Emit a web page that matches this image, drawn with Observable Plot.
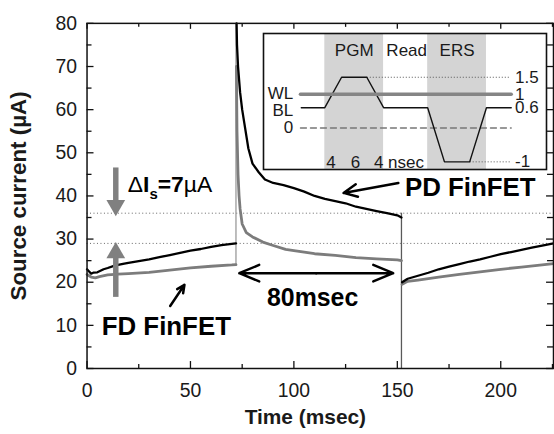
<!DOCTYPE html>
<html><head><meta charset="utf-8">
<script src="https://cdn.jsdelivr.net/npm/d3@7"></script>
<script src="https://cdn.jsdelivr.net/npm/@observablehq/plot@0.6"></script>
<style>
html,body{margin:0;padding:0;background:#fff;overflow:hidden}
#wrap{position:relative;width:554px;height:434px;overflow:hidden;background:#fff}
#wrap svg{position:absolute;left:0;top:0}
</style></head><body><div id="wrap"></div>
<script>
// ---------- main chart data ----------
// PD FinFET (black trace); null = gap in the trace
const pdTime = [0,1,2,3,5,8,10,13,15,18,20,25,30,35,40,45,50,55,60,65,70,72,
  72.1,
  72.3,72.5,73,74,75,76,78,80,83,86,90,95,100,105,110,115,120,125,130,135,140,145,150,152,
  152.1,
  152.3,155,160,165,170,175,180,185,190,195,200,205,210,215,220,225.5];
const pdCurrent = [23,22.5,22,22.2,22.3,23,23.3,23.8,24,24.3,24.5,24.9,25.3,25.8,26.3,26.8,27.3,27.7,28.2,28.6,28.9,29,
  null,
  80,75,70,64,60,57,51,47.5,45.5,43.8,43,42.5,41.8,41,40,39.3,38.8,38.3,37.5,37,36.5,36,35.5,35,
  null,
  20,20.8,21.5,22.2,23,23.6,24.2,24.8,25.3,25.9,26.5,27,27.5,28,28.5,29];
// FD FinFET (gray trace)
const fdTime = [0,2,4,6,10,15,20,30,40,50,60,70,72,
  72.1,
  72.2,72.5,73,73.5,74,75,77,80,85,90,96,100,110,120,130,140,150,152,
  152.1,
  152.3,155,160,170,180,190,200,210,220,225.5];
const fdCurrent = [21.8,21.2,21,21.3,21.7,21.9,22,22.3,22.8,23.3,23.7,24,24.1,
  null,
  70,55,45,40,37,33.5,31.5,30.5,29.3,28.5,27.6,27.3,26.6,26.2,25.7,25.4,25.2,25,
  null,
  19.5,20.2,20.5,21.2,21.8,22.4,23,23.5,24,24.3];
// switching transients (vertical jumps of the traces)
const jumps = [
  {t: 72, from: 24, to: 80, color: "#9a9a9a"},
  {t: 152, from: 0, to: 36, color: "#5a5a5a"}
];

const refLevels = [29, 36];                 // dotted ΔIs reference levels
const xMajor = [0, 50, 100, 150, 200];
const xMinor = [25, 75, 125, 175, 225];
const yMajor = [0, 10, 20, 30, 40, 50, 60, 70, 80];
const yMinor = [5, 15, 25, 35, 45, 55, 65, 75];

// annotations (data coordinates)
const bigLabels = [
  {label: "PD FinFET", t: 153.7, v: 41.8},
  {label: "FD FinFET", t: 7.1, v: 9.6}
];
const spanLabel = [{label: "80msec", t: 87, v: 16.4}];
const deltaLabel = [{label: "ΔIs=7µA", t: 19.7, v: 42.5}];
const blackArrows = [
  {x1: 150.5, y1: 43.0, x2: 124.0, y2: 40.7},
  {x1: 40.2, y1: 14.5, x2: 47.1, y2: 19.4}
];
const spanArrows = [
  {x1: 110.8, y1: 22.1, x2: 73.6, y2: 22.1},
  {x1: 110.8, y1: 22.1, x2: 148.0, y2: 22.1}
];
const grayShafts = [
  {x: 13.9, y1: 46.6, y2: 37.8},
  {x: 13.9, y1: 16.6, y2: 26.8}
];
const grayHeads = [
  {x: 13.9, y: 37.8, rot: 180},
  {x: 13.9, y: 26.8, rot: 0}
];

// ---------- inset (pulse schematic) data ----------
const blTime = [-5.6, 0, 4, 10, 14, 24.5, 28.5, 34.5, 38.5, 44.4];
const blVolt = [0.6, 0.6, 1.5, 1.5, 0.6, 0.6, -1, -1, 0.6, 0.6];
const wlTime = [-5.8, 44.4];
const wlVolt = [1, 1];
const zeroTime = [-5.8, 44.4];
const bands = [{x1: 0, x2: 14}, {x1: 24.5, x2: 38.5}];
const phaseLabels = [{label: "PGM", t: 7, v: 2.29}, {label: "Read", t: 19.5, v: 2.29}, {label: "ERS", t: 31.5, v: 2.29}];
const levelLabels = [{label: "1.5", v: 1.5}, {label: "1", v: 1}, {label: "0.6", v: 0.6}, {label: "-1", v: -1}];
const lineLabels = [{label: "WL", v: 1.02}, {label: "BL", v: 0.53}, {label: "0", v: 0}];
const durCenter = [{label: "4", t: 1.5}, {label: "6", t: 7.3}];
const durStart = [{label: "4 nsec", t: 11.7}];
const dotLevels = [{v: 1.5, t1: 10, t2: 44.2}, {v: -1, t1: 34.5, t2: 44.2}];

const FONT = "'Liberation Sans', Arial, Helvetica, sans-serif";
const pd = pdTime.map((t, i) => ({t, v: pdCurrent[i]}));
const fd = fdTime.map((t, i) => ({t, v: fdCurrent[i]}));

const main = Plot.plot({
  width: 557, height: 434,
  marginLeft: 87, marginRight: 1, marginTop: 23, marginBottom: 64,
  x: {domain: [0, 225.5]},
  y: {domain: [0, 80]},
  style: {fontFamily: FONT, fontSize: "19.5px", color: "#1a1a1a", background: "transparent"},
  marks: [
    Plot.ruleY(refLevels, {y: d => d, stroke: "#666", strokeDasharray: "1,2.5", strokeWidth: 1}),
    Plot.ruleX(jumps, {x: "t", y1: "from", y2: "to", stroke: "color", strokeWidth: 1.3}),
    Plot.line(fd, {x: "t", y: "v", stroke: "#7c7c7c", strokeWidth: 2.8}),
    Plot.line(pd, {x: "t", y: "v", stroke: "#000", strokeWidth: 2.3}),
    Plot.frame({stroke: "#111", strokeWidth: 1.5}),
    Plot.tickX(xMajor, {x: d => d, insetTop: 340, stroke: "#111", strokeWidth: 1.3}),
    Plot.tickX(xMinor, {x: d => d, insetTop: 343, stroke: "#111", strokeWidth: 1.3}),
    Plot.tickX(xMajor, {x: d => d, insetBottom: 341, stroke: "#111", strokeWidth: 1.3}),
    Plot.tickX(xMinor, {x: d => d, insetBottom: 343, stroke: "#111", strokeWidth: 1.3}),
    Plot.tickY(yMajor, {y: d => d, insetRight: 462, stroke: "#111", strokeWidth: 1.3}),
    Plot.tickY(yMinor, {y: d => d, insetRight: 464, stroke: "#111", strokeWidth: 1.3}),
    Plot.tickY(yMajor, {y: d => d, insetLeft: 462, stroke: "#111", strokeWidth: 1.3}),
    Plot.tickY(yMinor, {y: d => d, insetLeft: 463, stroke: "#111", strokeWidth: 1.3}),
    Plot.axisX({ticks: xMajor, tickSize: 0, tickPadding: 15, label: null}),
    Plot.axisY({ticks: yMajor, tickSize: 0, tickPadding: 10, label: null}),
    Plot.text(["Time (msec)"], {frameAnchor: "bottom", lineAnchor: "middle", textAnchor: "middle", dx: -15, dy: 49, fontWeight: "bold", fontSize: 21}),
    Plot.text(["Source current (µA)"], {frameAnchor: "left", lineAnchor: "middle", textAnchor: "middle", rotate: -90, dx: -69, fontWeight: "bold", fontSize: 22.5}),
    // gray ΔIs arrows
    Plot.link(grayShafts, {x1: "x", x2: "x", y1: "y1", y2: "y2", stroke: "#808080", strokeWidth: 5.5}),
    Plot.dot(grayHeads, {x: "x", y: "y", symbol: "triangle", r: 7, rotate: "rot", fill: "#808080", stroke: "none"}),
    // black pointer arrows
    Plot.arrow(blackArrows, {x1: "x1", y1: "y1", x2: "x2", y2: "y2", stroke: "#000", strokeWidth: 2.5, headLength: 9, headAngle: 50}),
    Plot.arrow(spanArrows, {x1: "x1", y1: "y1", x2: "x2", y2: "y2", stroke: "#000", strokeWidth: 2.5, headLength: 13, headAngle: 45}),
    Plot.text(bigLabels, {x: "t", y: "v", text: "label", textAnchor: "start", fontWeight: "bold", fontSize: 26, fill: "#000"}),
    Plot.text(spanLabel, {x: "t", y: "v", text: "label", textAnchor: "start", fontWeight: "bold", fontSize: 25, fill: "#000"}),
    Plot.text(deltaLabel, {x: "t", y: "v", text: "label", textAnchor: "start", fontSize: 23, fill: "#000"})
  ]
});

// rich-text the ΔIs label (subscript s)
main.querySelectorAll("text").forEach(el => {
  if (el.textContent === "ΔIs=7µA") {
    el.textContent = "";
    const ns = "http://www.w3.org/2000/svg";
    const parts = [
      {t: "Δ", w: "normal"},
      {t: "I", w: "bold"},
      {t: "s", w: "bold", size: 15, dy: "7"},
      {t: "=7", w: "bold", dy: "-7"},
      {t: "µA", w: "normal"}
    ];
    parts.forEach(p => {
      const ts = document.createElementNS(ns, "tspan");
      ts.textContent = p.t;
      ts.setAttribute("font-weight", p.w);
      if (p.size) ts.setAttribute("font-size", p.size);
      if (p.dy) ts.setAttribute("dy", p.dy);
      el.appendChild(ts);
    });
  }
});

const bl = blTime.map((t, i) => ({t, v: blVolt[i]}));
const wl = wlTime.map((t, i) => ({t, v: wlVolt[i]}));
const zero = zeroTime.map(t => ({t, v: 0}));

const inset = Plot.plot({
  width: 293, height: 146, margin: 5,
  x: {domain: [-14.6, 52.8], axis: null},
  y: {domain: [-1.226, 2.793], axis: null},
  style: {fontFamily: FONT, fontSize: "17px", color: "#1a1a1a", background: "transparent"},
  marks: [
    Plot.frame({fill: "white", stroke: "none"}),
    Plot.rectX(bands, {x1: "x1", x2: "x2", fill: "#d4d4d4"}),
    Plot.link(dotLevels, {x1: "t1", x2: "t2", y1: "v", y2: "v", stroke: "#555", strokeDasharray: "1,2", strokeWidth: 1}),
    Plot.line(zero, {x: "t", y: "v", stroke: "#777", strokeDasharray: "6,4", strokeWidth: 1.3}),
    Plot.line(bl, {x: "t", y: "v", stroke: "#111", strokeWidth: 1.4}),
    Plot.line(wl, {x: "t", y: "v", stroke: "#858585", strokeWidth: 3.5}),
    Plot.text(phaseLabels, {x: "t", y: "v", text: "label", fill: "#1a1a1a"}),
    Plot.text(levelLabels, {x: 45.3, y: "v", text: "label", textAnchor: "start", fill: "#1a1a1a"}),
    Plot.text(lineLabels, {x: -7.5, y: "v", text: "label", textAnchor: "end", fill: "#1a1a1a"}),
    Plot.text(durCenter, {x: "t", y: -1.02, text: "label", textAnchor: "middle", fill: "#1a1a1a"}),
    Plot.text(durStart, {x: "t", y: -1.02, text: "label", textAnchor: "start", fill: "#1a1a1a"}),
    Plot.frame({stroke: "#111", strokeWidth: 1.6})
  ]
});
inset.style.left = "258px";
inset.style.top = "28px";

const wrap = document.getElementById("wrap");
wrap.appendChild(main);
wrap.appendChild(inset);
</script></body></html>
